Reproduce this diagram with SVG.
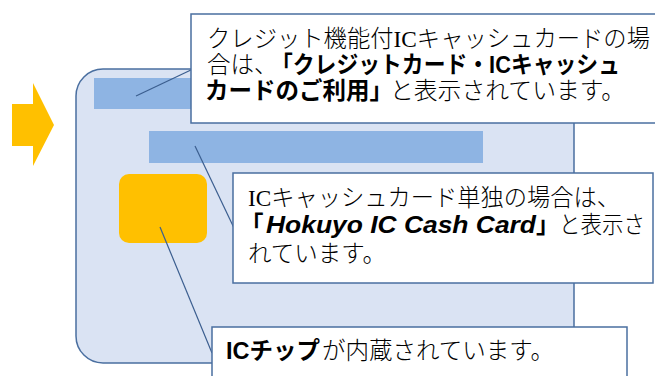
<svg xmlns="http://www.w3.org/2000/svg" width="655" height="376" viewBox="0 0 655 376">
<style>
.card{fill:#DAE3F3;stroke:#4A6FA0;stroke-width:1.5}
.stripe{fill:#8EB4E3}
.chip{fill:#FFC000}
.box{fill:#FFFFFF;stroke:#4A6FA0;stroke-width:1.5}
.lead{stroke:#3B5E8F;stroke-width:1.2;fill:none}
.r{font-family:"Liberation Serif","Noto Sans CJK JP",serif;font-size:23.5px;font-weight:300;fill:#000}
.b{font-family:"Liberation Sans","Noto Sans CJK JP",sans-serif;font-size:23.5px;font-weight:bold;fill:#000}
.bi{font-family:"Liberation Sans","Noto Sans CJK JP",sans-serif;font-size:24px;font-weight:bold;font-style:italic;fill:#000}
</style>
<g id="arrow">
<polygon points="12,104 33,104 33,83 54,125 33,166 33,146 12,146" fill="#FFC000"/>
</g>
<g id="card">
<rect class="card" x="76" y="69" width="498" height="294" rx="27" ry="27"/>
<rect class="stripe" x="94" y="78" width="300" height="31"/>
<rect class="stripe" x="149" y="131" width="334" height="32"/>
</g>
<g id="chip">
<rect class="chip" x="119" y="174" width="88" height="69" rx="10" ry="10"/>
</g>
<g id="connectors">
<line class="lead" x1="193" y1="69" x2="136" y2="96"/>
<line class="lead" x1="195" y1="146" x2="234" y2="228"/>
<line class="lead" x1="160" y1="227" x2="212" y2="353"/>
</g>
<g id="callout1">
<rect class="box" x="191" y="14" width="480" height="109"/>
<text class="r" x="207" y="47" textLength="443" lengthAdjust="spacingAndGlyphs">クレジット機能付ICキャッシュカードの場</text>
<text class="r" x="207" y="73">合は、</text>
<text class="b" x="271" y="73" textLength="349" lengthAdjust="spacingAndGlyphs">「クレジットカード・ICキャッシュ</text>
<text class="b" x="205" y="99" textLength="188" lengthAdjust="spacingAndGlyphs">カードのご利用」</text>
<text class="r" x="390" y="99" textLength="235" lengthAdjust="spacingAndGlyphs">と表示されています。</text>
</g>
<g id="callout2">
<rect class="box" x="233" y="173" width="420" height="110"/>
<text class="r" x="248" y="206" textLength="372" lengthAdjust="spacingAndGlyphs">ICキャッシュカード単独の場合は、</text>
<text class="b" x="240" y="233">「</text>
<text class="bi" x="266" y="233" textLength="270" lengthAdjust="spacingAndGlyphs">Hokuyo IC Cash Card</text>
<text class="b" x="536" y="233">」</text>
<text class="r" x="559" y="233" textLength="86" lengthAdjust="spacingAndGlyphs">と表示さ</text>
<text class="r" x="248" y="262">れています。</text>
</g>
<g id="callout3">
<rect class="box" x="212" y="327" width="415" height="60"/>
<text class="b" x="226" y="359">ICチップ</text>
<text class="r" x="322" y="359">が内蔵されています。</text>
</g>
</svg>
